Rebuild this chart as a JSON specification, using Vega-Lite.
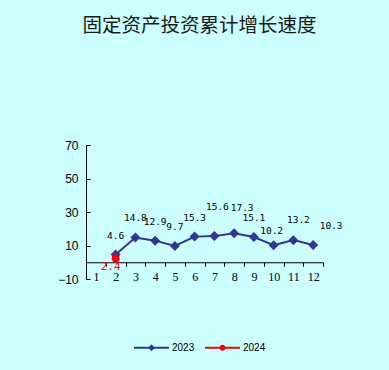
{
  "$schema": "https://vega.github.io/schema/vega-lite/v6.json",
  "width": 237,
  "height": 134,
  "autosize": {"type": "none"},
  "padding": {"left": 86, "top": 145, "right": 66, "bottom": 91},
  "background": "#CCFFFF",
  "title": {
    "text": "固定资产投资累计增长速度",
    "font": "Noto Sans CJK SC",
    "fontSize": 19.5,
    "fontWeight": "normal",
    "color": "#1a1a1a",
    "anchor": "middle",
    "frame": "group",
    "offset": 103,
    "dx": -5
  },
  "config": {
    "view": {"stroke": null},
    "legend": {
      "orient": "none",
      "legendX": 48,
      "legendY": 185,
      "direction": "horizontal",
      "title": null,
      "symbolSize": 1225,
      "symbolStrokeWidth": 0,
      "labelFont": "Liberation Sans",
      "labelFontSize": 10,
      "labelColor": "black",
      "labelOffset": 3,
      "columnPadding": 10,
      "padding": 0
    }
  },
  "data": {
    "values": [
      {"month": 2, "year": "2023", "value": 4.6},
      {"month": 3, "year": "2023", "value": 14.8},
      {"month": 4, "year": "2023", "value": 12.9},
      {"month": 5, "year": "2023", "value": 9.7},
      {"month": 6, "year": "2023", "value": 15.3},
      {"month": 7, "year": "2023", "value": 15.6},
      {"month": 8, "year": "2023", "value": 17.3},
      {"month": 9, "year": "2023", "value": 15.1},
      {"month": 10, "year": "2023", "value": 10.2},
      {"month": 11, "year": "2023", "value": 13.2},
      {"month": 12, "year": "2023", "value": 10.3},
      {"month": 2, "year": "2024", "value": 2.4}
    ]
  },
  "encoding": {
    "x": {
      "field": "month",
      "type": "ordinal",
      "bandPosition": 0.5,
      "scale": {"type": "band", "domain": [1, 2, 3, 4, 5, 6, 7, 8, 9, 10, 11, 12], "paddingInner": 0, "paddingOuter": 0},
      "axis": {
        "title": null,
        "offset": -16.75,
        "tickBand": "extent",
        "tickSize": 4,
        "labelPadding": 5,
        "labelAngle": 0,
        "labelFont": "Liberation Serif",
        "labelFontSize": 12,
        "labelColor": "black",
        "domainColor": "black",
        "tickColor": "black",
        "grid": false
      }
    },
    "y": {
      "field": "value",
      "type": "quantitative",
      "scale": {"domain": [-10, 70], "nice": false, "zero": false},
      "axis": {
        "title": null,
        "values": [-10, 10, 30, 50, 70],
        "format": "d",
        "tickSize": -4,
        "labelPadding": 12,
        "labelFont": "Liberation Sans",
        "labelFontSize": 12,
        "labelColor": "black",
        "domainColor": "black",
        "tickColor": "black",
        "grid": false
      }
    }
  },
  "layer": [
    {
      "transform": [{"filter": "datum.year == '2023'"}],
      "mark": {"type": "line", "color": "#333399", "strokeWidth": 2}
    },
    {
      "transform": [{"filter": "datum.year == '2023'"}],
      "mark": {"type": "point", "shape": "diamond", "filled": true, "color": "#333399", "size": 100, "opacity": 1}
    },
    {
      "transform": [{"filter": "datum.year == '2024'"}],
      "mark": {"type": "circle", "color": "#FF0000", "size": 64, "opacity": 1}
    },
    {
      "transform": [{"filter": "datum.year == '2023' && indexof([2,3,4,5,6,9], datum.month) >= 0"}],
      "mark": {"type": "text", "font": "DejaVu Sans Mono", "fontSize": 9.5, "color": "black", "dy": -19},
      "encoding": {"text": {"field": "value", "type": "quantitative", "format": ".1f"}}
    },
    {
      "transform": [{"filter": "datum.year == '2023' && datum.month == 7"}],
      "mark": {"type": "text", "font": "DejaVu Sans Mono", "fontSize": 9.5, "color": "black", "dx": 3, "dy": -29},
      "encoding": {"text": {"field": "value", "type": "quantitative", "format": ".1f"}}
    },
    {
      "transform": [{"filter": "datum.year == '2023' && datum.month == 8"}],
      "mark": {"type": "text", "font": "DejaVu Sans Mono", "fontSize": 9.5, "color": "black", "dx": 8, "dy": -25},
      "encoding": {"text": {"field": "value", "type": "quantitative", "format": ".1f"}}
    },
    {
      "transform": [{"filter": "datum.year == '2023' && datum.month == 10"}],
      "mark": {"type": "text", "font": "DejaVu Sans Mono", "fontSize": 9.5, "color": "black", "dx": -2, "dy": -14},
      "encoding": {"text": {"field": "value", "type": "quantitative", "format": ".1f"}}
    },
    {
      "transform": [{"filter": "datum.year == '2023' && datum.month == 11"}],
      "mark": {"type": "text", "font": "DejaVu Sans Mono", "fontSize": 9.5, "color": "black", "dx": 5, "dy": -20},
      "encoding": {"text": {"field": "value", "type": "quantitative", "format": ".1f"}}
    },
    {
      "transform": [{"filter": "datum.year == '2023' && datum.month == 12"}],
      "mark": {"type": "text", "font": "DejaVu Sans Mono", "fontSize": 9.5, "color": "black", "dx": 18, "dy": -19},
      "encoding": {"text": {"field": "value", "type": "quantitative", "format": ".1f"}}
    },
    {
      "transform": [{"filter": "datum.year == '2024'"}],
      "mark": {"type": "text", "font": "DejaVu Sans Mono", "fontSize": 11, "color": "#FF0000", "dx": -5, "dy": 9},
      "encoding": {"text": {"field": "value", "type": "quantitative", "format": ".1f"}}
    },
    {
      "transform": [{"filter": "false"}],
      "mark": {"type": "point", "filled": true, "opacity": 1},
      "encoding": {
        "color": {
          "field": "year",
          "type": "nominal",
          "scale": {"domain": ["2023", "2024"], "range": ["#333399", "#FF0000"]}
        },
        "shape": {
          "field": "year",
          "type": "nominal",
          "scale": {
            "domain": ["2023", "2024"],
            "range": [
              "M-1,-0.06H1V0.06H-1Z M0,-0.2L0.2,0L0,0.2L-0.2,0Z",
              "M-1,-0.06H1V0.06H-1Z M-0.17,0A0.17,0.17,0,1,1,0.17,0A0.17,0.17,0,1,1,-0.17,0Z"
            ]
          }
        }
      }
    }
  ]
}
